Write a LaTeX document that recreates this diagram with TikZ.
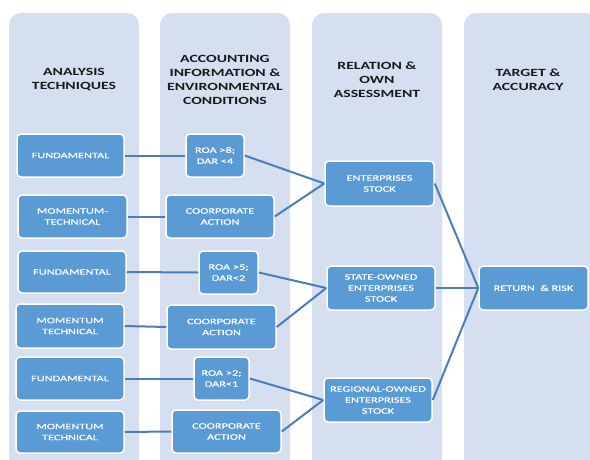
\documentclass[tikz,border=0pt]{standalone}
\usepackage{fontspec}
\setmainfont{Carlito}[FakeStretch=1.43]
\newfontfamily\boxfont{Carlito}[FakeStretch=1.48, FakeBold=0.6]
\definecolor{colbg}{HTML}{D5DFEF}
\definecolor{boxfill}{HTML}{5B9BD5}
\definecolor{linkc}{HTML}{4A7EBB}
\definecolor{headc}{HTML}{1A1A1A}
\tikzset{
  colbox/.style={fill=colbg, rounded corners=12pt},
  head/.style={font=\bfseries\fontsize{11}{14}\selectfont, text=headc, align=center},
  bx/.style={rectangle, rounded corners=4pt, fill=boxfill, draw=white, line width=1.5pt,
    text=white, align=center, font=\boxfont\fontsize{8.3}{11}\selectfont, inner sep=1pt},
  link/.style={draw=linkc, line width=2pt}
}
\begin{document}
\begin{tikzpicture}[x=1pt,y=-1pt]
\useasboundingbox (0,0) rectangle (590,459);
\clip (0,0) rectangle (590,459);
% columns
\fill[colbox] (9,13) rectangle (139,470);
\fill[colbox] (160,13) rectangle (290,470);
\fill[colbox] (312,13) rectangle (442,470);
\fill[colbox] (464,13) rectangle (598,470);
% headers
\node[head] (h1) at (74,80) {ANALYSIS\\TECHNIQUES};
\node[head] (h2) at (225,80) {ACCOUNTING\\INFORMATION \&\\ENVIRONMENTAL\\CONDITIONS};
\node[head] (h3) at (377,80) {RELATION \&\\OWN\\ASSESSMENT};
\node[head] (h4) at (528,80) {TARGET \&\\ACCURACY};
% column 1
\node[bx, minimum width=107pt, minimum height=43pt] (b1) at (70.5,155.5) {FUNDAMENTAL};
\node[bx, minimum width=109pt, minimum height=43pt] (b2) at (72.5,216.5) {MOMENTUM-\\TECHNICAL};
\node[bx, minimum width=108pt, minimum height=42pt] (b3) at (72,272) {FUNDAMENTAL};
\node[bx, minimum width=108pt, minimum height=44pt] (b4) at (70,326) {MOMENTUM\\TECHNICAL};
\node[bx, minimum width=108pt, minimum height=43pt] (b5) at (70,378.5) {FUNDAMENTAL};
\node[bx, minimum width=108pt, minimum height=42pt] (b6) at (70,432) {MOMENTUM\\TECHNICAL};
% column 2
\node[bx, minimum width=58pt, minimum height=43pt] (c1) at (215,155.5) {ROA >8;\\DAR <4};
\node[bx, minimum width=108pt, minimum height=43pt] (c2) at (220,216.5) {COORPORATE\\ACTION};
\node[bx, minimum width=59pt, minimum height=43pt] (c3) at (228.5,272.5) {ROA >5;\\DAR<2};
\node[bx, minimum width=109pt, minimum height=44pt] (c4) at (221.5,327) {COORPORATE\\ACTION};
\node[bx, minimum width=55pt, minimum height=43pt] (c5) at (221.5,378.5) {ROA >2;\\DAR<1};
\node[bx, minimum width=109pt, minimum height=43pt] (c6) at (226.5,431.5) {COORPORATE\\ACTION};
% column 3
\node[bx, minimum width=109pt, minimum height=45pt] (d1) at (379.5,183.5) {ENTERPRISES\\STOCK};
\node[bx, minimum width=108pt, minimum height=44pt] (d2) at (381,288) {STATE-OWNED\\ENTERPRISES\\STOCK};
\node[bx, minimum width=108pt, minimum height=44pt] (d3) at (378,400) {REGIONAL-OWNED\\ENTERPRISES\\STOCK};
% column 4
\node[bx, minimum width=109pt, minimum height=44pt] (e1) at (533.5,288) {RETURN \ \& RISK};
% connectors
\draw[link] (b1.east) -- (c1.west);
\draw[link] (b2.east) -- (c2.west);
\draw[link] (b3.east) -- (c3.west);
\draw[link] (b4.east) -- (c4.west);
\draw[link] (b5.east) -- (c5.west);
\draw[link] (b6.east) -- (c6.west);
\draw[link] (c1.east) -- (d1.west);
\draw[link] (c2.east) -- (d1.west);
\draw[link] (c3.east) -- (d2.west);
\draw[link] (c4.east) -- (d2.west);
\draw[link] (c5.east) -- (d3.west);
\draw[link] (c6.east) -- (d3.west);
\draw[link] (d1.east) -- (e1.west);
\draw[link] (d2.east) -- (e1.west);
\draw[link] (d3.east) -- (e1.west);
\end{tikzpicture}
\end{document}
